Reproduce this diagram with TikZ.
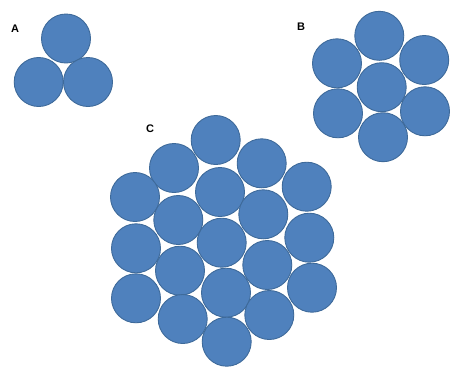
\documentclass[tikz,border=0pt]{standalone}
\usepackage{fontspec}
\setmainfont{Liberation Sans}
\definecolor{ballfill}{HTML}{4F81BD}
\definecolor{balledge}{HTML}{3E6A9A}
\begin{document}
\begin{tikzpicture}[x=1pt,y=-1pt,
  ball/.style={circle,draw=balledge,fill=ballfill,line width=0.9pt,minimum size=49pt,inner sep=0pt},
  lbl/.style={font=\fontsize{11}{13}\selectfont\bfseries,inner sep=0pt}]
\useasboundingbox (0,0) rectangle (450,368);
% Group A
\node[ball] (a1) at (66,38.5) {};
\node[ball] (a2) at (38.7,82) {};
\node[ball] (a3) at (88,82) {};
\node[lbl] (la) at (15,29) {A};
% Group B
\node[ball] (b1) at (379.3,35.8) {};
\node[ball] (b2) at (337,63.3) {};
\node[ball] (b3) at (424.2,60) {};
\node[ball] (b4) at (381.7,87.2) {};
\node[ball] (b5) at (338,113.3) {};
\node[ball] (b6) at (425,111.3) {};
\node[ball] (b7) at (383,137.2) {};
\node[lbl] (lb) at (301,27) {B};
% Group C
\node[ball] (c1) at (215.7,140) {};
\node[ball] (c2) at (174,168) {};
\node[ball] (c3) at (261.7,163.3) {};
\node[ball] (c4) at (135,197) {};
\node[ball] (c5) at (220,192) {};
\node[ball] (c6) at (306.7,186.7) {};
\node[ball] (c7) at (178.3,220) {};
\node[ball] (c8) at (263.3,214.3) {};
\node[ball] (c9) at (136,248.3) {};
\node[ball] (c10) at (221.7,242.7) {};
\node[ball] (c11) at (309.3,237.7) {};
\node[ball] (c12) at (180,270.7) {};
\node[ball] (c13) at (267.3,265) {};
\node[ball] (c14) at (136,298.3) {};
\node[ball] (c15) at (226,292.7) {};
\node[ball] (c16) at (312,287.7) {};
\node[ball] (c17) at (182.7,319) {};
\node[ball] (c18) at (269.3,315) {};
\node[ball] (c19) at (226.7,341.7) {};
\node[lbl] (lc) at (150,128.3) {C};
\end{tikzpicture}
\end{document}
